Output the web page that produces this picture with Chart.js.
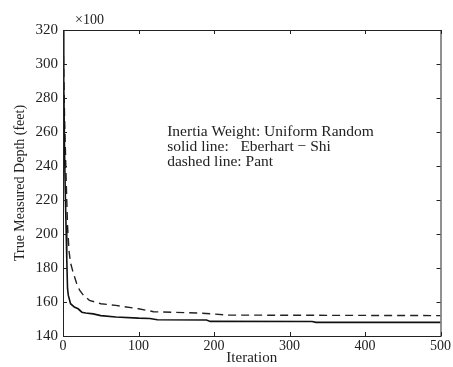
<!DOCTYPE html>
<html>
<head>
<meta charset="utf-8">
<script src="https://cdn.jsdelivr.net/npm/chart.js@4/dist/chart.umd.min.js"></script>
<style>
  html, body { margin: 0; padding: 0; background: #fff; }
  #wrap { width: 453px; height: 367px; }
</style>
</head>
<body>
<div id="wrap"><canvas id="myChart" width="453" height="367"></canvas></div>
<script>
// values (depth in hundreds of feet)
var solidIter = [0, 1, 2, 3, 4, 5, 6, 7, 10, 15, 20, 25, 30, 40, 50, 70, 100, 115, 125, 190, 195, 330, 335, 500];
var solidDepth = [320, 290, 250, 225, 205, 185, 168, 164, 159, 157, 156, 154, 153.5, 153, 152, 151.2, 150.5, 150.3, 149.6, 149.4, 148.6, 148.5, 148, 148];
var dashIter = [0, 2, 4, 6, 8, 10, 13, 18, 22, 27, 35, 50, 70, 100, 120, 180, 220, 500];
var dashDepth = [320, 270, 235, 205, 190, 183, 178, 171, 167, 164, 161, 159, 158, 156, 154.3, 153.5, 152.3, 152];
var xTicks = [0, 100, 200, 300, 400, 500];
var yTicks = [140, 160, 180, 200, 220, 240, 260, 280, 300, 320];
var noteLines = ['Inertia Weight: Uniform Random', 'solid line:   Eberhart \u2212 Shi', 'dashed line: Pant'];

var serif = '"Liberation Serif", "Times New Roman", serif';

function pairs(xs, ys) {
  var out = [];
  for (var i = 0; i < xs.length; i++) out.push({x: xs[i], y: ys[i]});
  return out;
}

// box, inward ticks and the text note
var boxPlugin = {
  id: 'box',
  afterDraw: function(chart) {
    var c = chart.ctx, a = chart.chartArea;
    var xs = chart.scales.x, ys = chart.scales.y;
    c.save();
    c.strokeStyle = '#222';
    c.lineWidth = 1;
    c.strokeRect(a.left + 0.5, a.top + 0.5, a.right - a.left, a.bottom - a.top);
    c.beginPath();
    xTicks.forEach(function(t) {
      var px = Math.round(xs.getPixelForValue(t)) + 0.5;
      c.moveTo(px, a.bottom); c.lineTo(px, a.bottom - 4);
      c.moveTo(px, a.top); c.lineTo(px, a.top + 4);
    });
    yTicks.forEach(function(t) {
      var py = Math.round(ys.getPixelForValue(t)) + 0.5;
      c.moveTo(a.left, py); c.lineTo(a.left + 4, py);
      c.moveTo(a.right, py); c.lineTo(a.right - 4, py);
    });
    c.stroke();
    c.fillStyle = '#222';
    c.textBaseline = 'alphabetic';
    c.font = '14px ' + serif;
    c.fillText('\u00d7100', a.left + 12, a.top - 6);
    c.font = '15.5px ' + serif;
    var nx = xs.getPixelForValue(138), ny = ys.getPixelForValue(257.7);
    noteLines.forEach(function(s, i) {
      c.fillText(s, nx, ny + i * 15);
    });
    c.restore();
  }
};

var ctx = document.getElementById('myChart').getContext('2d');
var myChart = new Chart(ctx, {
  type: 'line',
  data: {
    datasets: [{
      label: 'Eberhart - Shi',
      data: pairs(solidIter, solidDepth),
      borderColor: '#111',
      borderWidth: 1.6,
      pointRadius: 0,
      tension: 0
    }, {
      label: 'Pant',
      data: pairs(dashIter, dashDepth),
      borderColor: '#222',
      borderWidth: 1.4,
      borderDash: [8, 5],
      pointRadius: 0,
      tension: 0
    }]
  },
  options: {
    responsive: false,
    animation: false,
    layout: {padding: {top: 30, right: 11, left: 0, bottom: 0}},
    plugins: {legend: {display: false}, tooltip: {enabled: false}},
    scales: {
      x: {
        type: 'linear', min: 0, max: 500,
        afterBuildTicks: function(s) { s.ticks = xTicks.map(function(v) { return {value: v}; }); },
        afterFit: function(s) { s.height = 31; },
        grid: {display: false, drawTicks: false},
        border: {display: false},
        ticks: {color: '#222', font: {family: serif, size: 14}, padding: 2, maxRotation: 0},
        title: {display: true, text: 'Iteration', color: '#222', font: {family: serif, size: 15}, padding: {top: -5, bottom: 0}}
      },
      y: {
        type: 'linear', min: 140, max: 320,
        afterBuildTicks: function(s) { s.ticks = yTicks.map(function(v) { return {value: v}; }); },
        afterFit: function(s) { s.width = 63; },
        grid: {display: false, drawTicks: false},
        border: {display: false},
        ticks: {color: '#222', font: {family: serif, size: 15}, padding: 5},
        title: {display: true, text: 'True Measured Depth (feet)', color: '#222', font: {family: serif, size: 14}, padding: {top: 12, bottom: 0}}
      }
    }
  },
  plugins: [boxPlugin]
});
</script>
</body>
</html>
